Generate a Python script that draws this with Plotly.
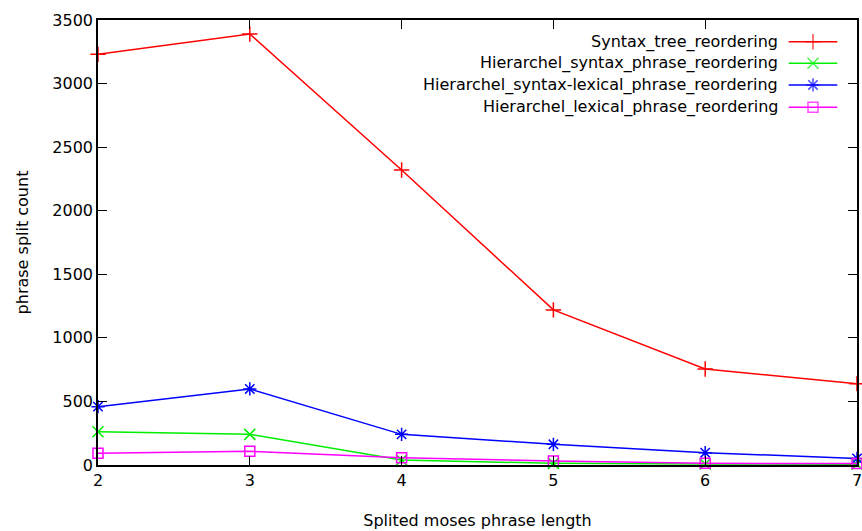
import plotly.graph_objects as go

x_vals = [2, 3, 4, 5, 6, 7]
syntax_tree = [3230, 3390, 2320, 1220, 755, 640]
hier_syntax = [262, 241, 39, 13, 8, 6]
hier_syntax_lexical = [459, 598, 241, 163, 97, 52]
hier_lexical = [92, 108, 58, 31, 13, 12]

names = ["Syntax_tree_reordering", "Hierarchel_syntax_phrase_reordering",
         "Hierarchel_syntax-lexical_phrase_reordering", "Hierarchel_lexical_phrase_reordering"]
series = [syntax_tree, hier_syntax, hier_syntax_lexical, hier_lexical]
colors = ["#ff0000", "#00ee00", "#0000ff", "#ff00ff"]
symbols = ["cross-thin", "x-thin", "asterisk", "square-open"]
sizes = [11, 11, 11, 10]

FONT = "DejaVu Sans"
FS = 16
fig = go.Figure()
for name, ys, c, s, sz in zip(names, series, colors, symbols, sizes):
    fig.add_trace(go.Scatter(x=x_vals, y=ys, mode="lines+markers", name=name,
                             line=dict(color=c, width=1.5),
                             marker=dict(symbol=s, size=sz, color=c,
                                         line=dict(color=c, width=1.5)),
                             cliponaxis=False, showlegend=False))

# gnuplot-style legend: text right-aligned, sample on the right
leg_y = [0.951, 0.903, 0.854, 0.804]
for name, c, s, sz, yy in zip(names, colors, symbols, sizes, leg_y):
    fig.add_trace(go.Scatter(x=[0.91, 0.942, 0.974], y=[yy, yy, yy], xaxis="x2", yaxis="y2",
                             mode="lines+markers", line=dict(color=c, width=1.5),
                             marker=dict(symbol=s, size=[0, sz, 0], color=c,
                                         line=dict(color=c, width=1.5)),
                             showlegend=False, hoverinfo="skip"))
    fig.add_annotation(xref="paper", yref="paper", x=0.899, y=yy, text=name,
                       showarrow=False, xanchor="right", yanchor="middle",
                       font=dict(family=FONT, size=FS, color="black"))

axis_common = dict(showgrid=False, zeroline=False, showline=True, linecolor="black",
                   linewidth=1.5, mirror="ticks", ticks="inside", ticklen=9,
                   tickcolor="black", tickwidth=1.2, automargin=False,
                   ticklabeloverflow="allow",
                   tickfont=dict(family=FONT, size=FS, color="black"))
fig.update_layout(
    width=862, height=531,
    margin=dict(l=98, r=5, t=20, b=66),
    plot_bgcolor="white", paper_bgcolor="white",
    xaxis=dict(range=[2, 7], tickvals=x_vals, title=dict(text="Splited moses phrase length",
               font=dict(family=FONT, size=FS, color="black"), standoff=26), **axis_common),
    yaxis=dict(range=[0, 3500], dtick=500, title=dict(text="phrase split count",
               font=dict(family=FONT, size=FS, color="black"), standoff=20), **axis_common),
    xaxis2=dict(range=[0, 1], overlaying="x", visible=False),
    yaxis2=dict(range=[0, 1], overlaying="y", visible=False),
    showlegend=False,
)
fig.write_html("out.html", config={"displayModeBar": False},
               post_script="document.body.style.margin='0';document.body.style.overflow='hidden';")
